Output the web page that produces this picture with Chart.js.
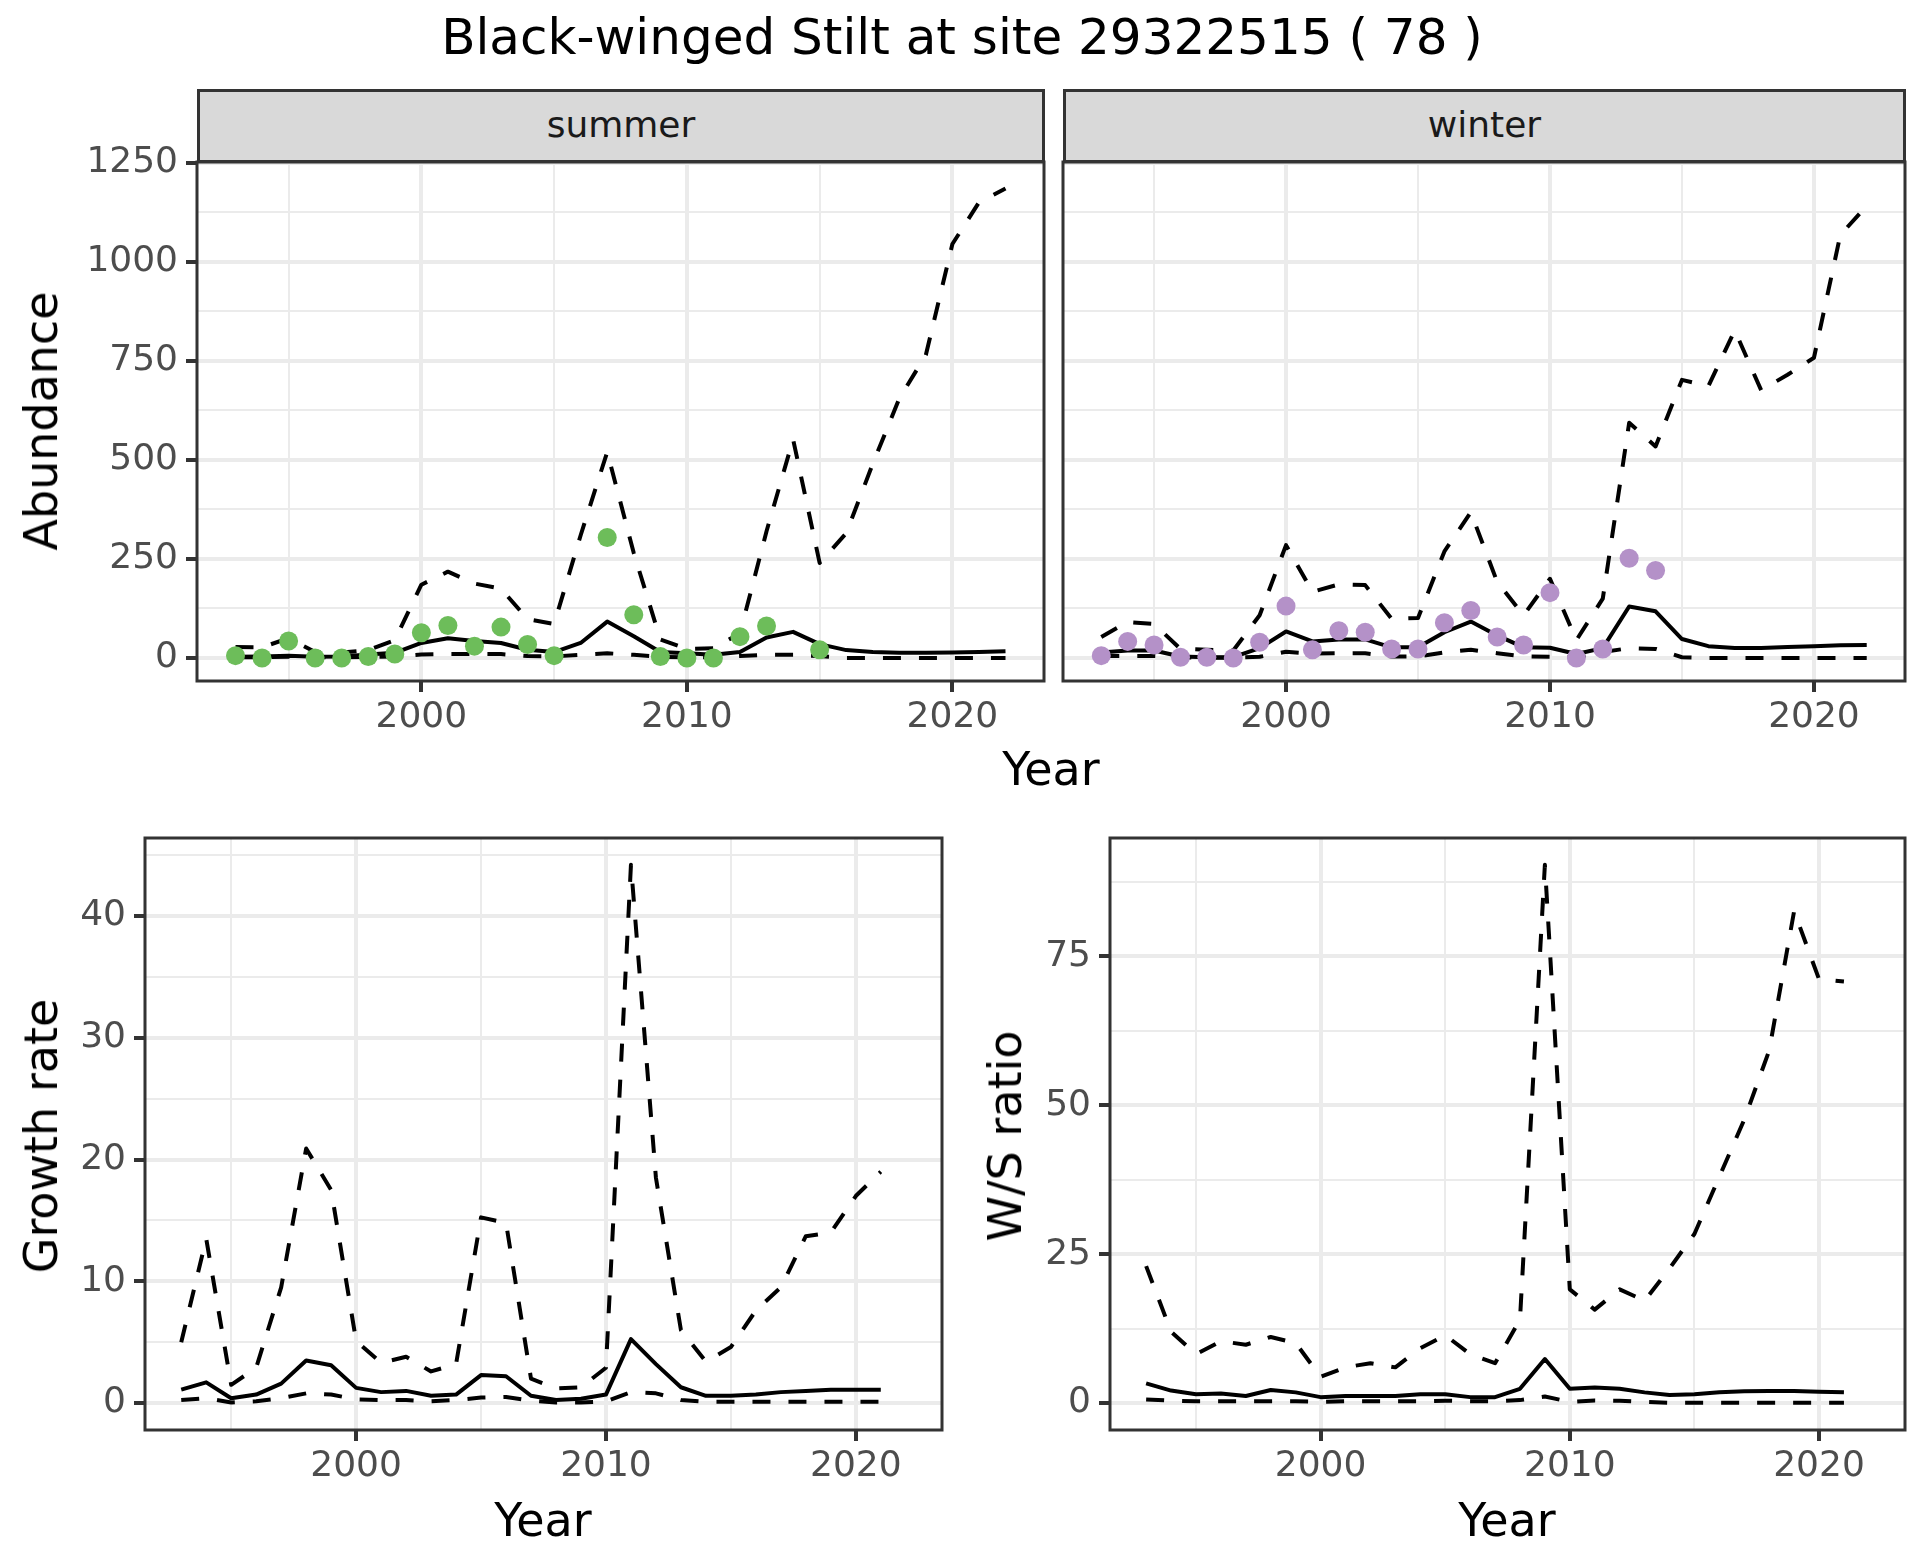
<!DOCTYPE html>
<html>
<head>
<meta charset="utf-8">
<script src="https://cdn.jsdelivr.net/npm/chart.js@4.4.1/dist/chart.umd.min.js"></script>
<style>
body { margin: 0; background: #fff; }
#page { position: relative; width: 1920px; height: 1560px; overflow: hidden; font-family: 'DejaVu Sans', sans-serif; }
canvas { position: absolute; }
.txt { position: absolute; white-space: nowrap; transform: translate(-50%, -50%); color: #000; }
.vt { transform: translate(-50%, -50%) rotate(-90deg); }
.strip { position: absolute; box-sizing: border-box; background: #d9d9d9; border: 3px solid #333; color: #1a1a1a; font-size: 36px; text-align: center; line-height: 66px; }
</style>
</head>
<body>
<div id="page">
  <div class="txt" style="left:962px; top:37px; font-size:50px;">Black-winged Stilt at site 29322515 ( 78 )</div>

  <div class="strip" style="left:197px; top:89px; width:848px; height:74px;">summer</div>
  <div class="strip" style="left:1063px; top:89px; width:843px; height:74px;">winter</div>

  <canvas id="summerChart" width="1060" height="621" style="left:0px; top:130px; width:1060px; height:621px;"></canvas>
  <canvas id="winterChart" width="870" height="621" style="left:1050px; top:130px; width:870px; height:621px;"></canvas>
  <canvas id="growthChart" width="960" height="694" style="left:0px; top:806px; width:960px; height:694px;"></canvas>
  <canvas id="ratioChart" width="960" height="694" style="left:960px; top:806px; width:960px; height:694px;"></canvas>

  <div class="txt vt" style="left:41px; top:421px; font-size:46px;">Abundance</div>
  <div class="txt" style="left:1051px; top:769px; font-size:46px;">Year</div>
  <div class="txt vt" style="left:41px; top:1136px; font-size:46px;">Growth rate</div>
  <div class="txt vt" style="left:1005px; top:1136px; font-size:46px;">W/S ratio</div>
  <div class="txt" style="left:543px; top:1520px; font-size:46px;">Year</div>
  <div class="txt" style="left:1507px; top:1520px; font-size:46px;">Year</div>
</div>

<script>
// Years on the x axis
const abundanceYears = [1993, 1994, 1995, 1996, 1997, 1998, 1999, 2000, 2001, 2002, 2003, 2004, 2005, 2006, 2007,
                        2008, 2009, 2010, 2011, 2012, 2013, 2014, 2015, 2016, 2017, 2018, 2019, 2020, 2021, 2022];
const rateYears = [1993, 1994, 1995, 1996, 1997, 1998, 1999, 2000, 2001, 2002, 2003, 2004, 2005, 2006, 2007,
                   2008, 2009, 2010, 2011, 2012, 2013, 2014, 2015, 2016, 2017, 2018, 2019, 2020, 2021];

// Summer abundance: counts, fitted mean and its bounds
const summerCount = [6, 0, 43, 0, 0, 4, 10, 64, 82, 30, 78, 34, 6, null, 304,
                     109, 4, 0, 0, 54, 81, null, 21, null, null, null, null, null, null, null];
const summerMean = [3, 4, 6, 3, 4, 9, 13, 38, 50, 43, 38, 21, 15, 38, 92,
                    55, 15, 12, 8, 15, 52, 66, 35, 20, 15, 13, 13, 14, 15, 17];
const summerLow = [2, 2, 3, 2, 2, 3, 4, 9, 10, 10, 10, 5, 4, 8, 12,
                   8, 3, 2, 2, 5, 8, 8, 5, 0, 0, 0, 0, 0, 0, 0];
const summerHigh = [28, 27, 50, 15, 14, 20, 45, 185, 218, 188, 175, 98, 86, 310, 520,
                    265, 47, 23, 25, 62, 320, 552, 240, 315, 490, 655, 765, 1045, 1150, 1185];

// Winter abundance
const winterCount = [6, 42, 33, 2, 2, 0, 40, 131, 21, 69, 65, 23, 23, 89, 120,
                     53, 33, 165, 0, 23, 252, 221, null, null, null, null, null, null, null, null];
const winterMean = [14, 19, 19, 4, 2, 2, 25, 67, 42, 47, 47, 27, 27, 65, 92,
                    57, 27, 26, 10, 25, 130, 118, 48, 30, 25, 25, 28, 30, 32, 33];
const winterLow = [5, 5, 5, 2, 1, 1, 3, 16, 11, 12, 12, 4, 4, 14, 21,
                   12, 4, 3, 2, 15, 25, 23, 2, 0, 0, 0, 0, 0, 0, 0];
const winterHigh = [53, 91, 86, 23, 21, 19, 108, 285, 167, 186, 184, 99, 101, 269, 368,
                    192, 108, 200, 45, 150, 594, 534, 702, 686, 827, 676, 715, 758, 1068, 1141];

// Growth rate
const growthMean = [1.1, 1.7, 0.4, 0.7, 1.6, 3.5, 3.1, 1.25, 0.9, 1.0, 0.6, 0.7, 2.3, 2.2, 0.6,
                    0.25, 0.35, 0.7, 5.25, 3.2, 1.3, 0.6, 0.6, 0.7, 0.9, 1.0, 1.1, 1.1, 1.1];
const growthLow = [0.25, 0.4, 0.05, 0.15, 0.4, 0.8, 0.7, 0.3, 0.25, 0.25, 0.15, 0.25, 0.45, 0.5, 0.2,
                   0.05, 0.05, 0.15, 0.9, 0.8, 0.25, 0.1, 0.1, 0.1, 0.1, 0.1, 0.1, 0.1, 0.1];
const growthHigh = [5.0, 13.5, 1.5, 2.9, 9.5, 20.9, 17.5, 5.1, 3.3, 3.8, 2.6, 3.2, 15.25, 14.8, 2.0,
                    1.2, 1.3, 2.9, 44.2, 18.5, 6.0, 3.4, 4.6, 7.6, 9.5, 13.7, 14.0, 17.0, 19.0];

// Winter / summer ratio
const ratioMean = [3.3, 2.1, 1.5, 1.6, 1.2, 2.2, 1.8, 1.0, 1.2, 1.2, 1.2, 1.5, 1.5, 1.0, 1.0,
                   2.4, 7.4, 2.4, 2.6, 2.4, 1.8, 1.35, 1.5, 1.8, 2.0, 2.05, 2.05, 1.9, 1.8];
const ratioLow = [0.6, 0.4, 0.3, 0.3, 0.3, 0.3, 0.3, 0.2, 0.3, 0.3, 0.3, 0.3, 0.4, 0.3, 0.3,
                  0.5, 1.1, 0.2, 0.45, 0.4, 0.2, 0.05, 0.05, 0.05, 0.05, 0.05, 0.05, 0.05, 0.05];
const ratioHigh = [23.0, 12.0, 8.2, 10.4, 9.8, 11.1, 10.1, 4.4, 6.0, 6.7, 6.0, 9.2, 11.4, 8.2, 6.7,
                   14.0, 90.4, 19.1, 15.7, 19.1, 17.2, 22.6, 28.4, 38.0, 47.6, 59.2, 82.6, 71.2, 70.8];

// Tick values (major ones get labels, the rest are minor grid lines)
const yearTicks = [1995, 2000, 2005, 2010, 2015, 2020];
const yearLabels = [2000, 2010, 2020];
const abundanceTicks = [0, 125, 250, 375, 500, 625, 750, 875, 1000, 1125, 1250];
const abundanceLabels = [0, 250, 500, 750, 1000, 1250];
const growthTicks = [0, 5, 10, 15, 20, 25, 30, 35, 40, 45];
const growthLabels = [0, 10, 20, 30, 40];
const ratioTicks = [0, 12.5, 25, 37.5, 50, 62.5, 75, 87.5];
const ratioLabels = [0, 25, 50, 75];

const FONT = 'DejaVu Sans';
const summerColor = '#6dbd5a';
const winterColor = '#b491c8';

function toPoints(xs, ys) {
    return xs.map((x, i) => ({ x: x, y: ys[i] })).filter(p => p.y !== null);
}

function lineSet(xs, ys, dashed) {
    return {
        data: toPoints(xs, ys),
        borderColor: '#000',
        borderWidth: 4,
        borderDash: dashed ? [18, 18] : [],
        borderJoinStyle: 'round',
        pointRadius: 0,
        tension: 0,
        fill: false,
        order: 2
    };
}

function pointSet(xs, ys, color) {
    return {
        data: toPoints(xs, ys),
        showLine: false,
        pointRadius: 9.5,
        pointBorderWidth: 0,
        pointBackgroundColor: color,
        borderColor: color,
        order: 1
    };
}

function gridOptions(labels, drawTicks) {
    return {
        color: '#ebebeb',
        lineWidth: c => labels.includes(c.tick.value) ? 4 : 2,
        drawTicks: drawTicks,
        tickLength: 11,
        tickWidth: 4,
        tickColor: c => labels.includes(c.tick.value) ? '#333333' : 'rgba(0,0,0,0)'
    };
}

// keep the plot area where it was placed: no extra room for overhanging labels
function noOverhang(s) {
    s.paddingTop = 0;
    s.paddingBottom = 0;
    s.paddingLeft = 0;
    s.paddingRight = 0;
}

// panel frame drawn over the data, like the ggplot border
const panelBorder = {
    id: 'panelBorder',
    afterDraw(chart) {
        const a = chart.chartArea;
        const ctx = chart.ctx;
        ctx.save();
        ctx.strokeStyle = '#333333';
        ctx.lineWidth = 3;
        ctx.strokeRect(a.left, a.top, a.right - a.left, a.bottom - a.top);
        ctx.restore();
    }
};

function renderPanel(id, p) {
    new Chart(document.getElementById(id), {
        type: 'line',
        data: { datasets: p.datasets },
        options: {
            responsive: false,
            animation: false,
            layout: { padding: { top: 32, right: p.padRight, left: 0, bottom: 0 } },
            plugins: { legend: { display: false }, tooltip: { enabled: false } },
            scales: {
                x: {
                    type: 'linear',
                    min: 1991.55,
                    max: 2023.45,
                    afterBuildTicks: s => { s.ticks = yearTicks.map(v => ({ value: v })); },
                    afterFit: s => { s.height = 70; noOverhang(s); },
                    ticks: {
                        autoSkip: false,
                        maxRotation: 0,
                        padding: 4,
                        color: '#4d4d4d',
                        font: { family: FONT, size: 36 },
                        callback: v => yearLabels.includes(v) ? String(v) : ''
                    },
                    grid: gridOptions(yearLabels, true),
                    border: { display: false }
                },
                y: {
                    type: 'linear',
                    min: p.yMin,
                    max: p.yMax,
                    afterBuildTicks: s => { s.ticks = p.yTicks.map(v => ({ value: v })); },
                    afterFit: s => { s.width = p.yWidth; noOverhang(s); },
                    ticks: {
                        display: p.yLabels !== null,
                        autoSkip: false,
                        padding: 8,
                        color: '#4d4d4d',
                        font: { family: FONT, size: 36 },
                        callback: v => (p.yLabels || []).includes(v) ? String(v) : ''
                    },
                    grid: gridOptions(p.yLabels || p.yMajor, p.yLabels !== null),
                    border: { display: false }
                }
            }
        },
        plugins: [panelBorder]
    });
}

function initializeCharts() {
    renderPanel('summerChart', {
        datasets: [
            pointSet(abundanceYears, summerCount, summerColor),
            lineSet(abundanceYears, summerMean, false),
            lineSet(abundanceYears, summerLow, true),
            lineSet(abundanceYears, summerHigh, true)
        ],
        yMin: -58, yMax: 1252, yTicks: abundanceTicks, yLabels: abundanceLabels,
        yWidth: 197, padRight: 16
    });

    renderPanel('winterChart', {
        datasets: [
            pointSet(abundanceYears, winterCount, winterColor),
            lineSet(abundanceYears, winterMean, false),
            lineSet(abundanceYears, winterLow, true),
            lineSet(abundanceYears, winterHigh, true)
        ],
        yMin: -58, yMax: 1252, yTicks: abundanceTicks, yLabels: null, yMajor: abundanceLabels,
        yWidth: 13, padRight: 15
    });

    renderPanel('growthChart', {
        datasets: [
            lineSet(rateYears, growthMean, false),
            lineSet(rateYears, growthLow, true),
            lineSet(rateYears, growthHigh, true)
        ],
        yMin: -2.21, yMax: 46.4, yTicks: growthTicks, yLabels: growthLabels,
        yWidth: 145, padRight: 18
    });

    renderPanel('ratioChart', {
        datasets: [
            lineSet(rateYears, ratioMean, false),
            lineSet(rateYears, ratioLow, true),
            lineSet(rateYears, ratioHigh, true)
        ],
        yMin: -4.52, yMax: 94.9, yTicks: ratioTicks, yLabels: ratioLabels,
        yWidth: 150, padRight: 15
    });
}

document.addEventListener('DOMContentLoaded', initializeCharts);
</script>
</body>
</html>
